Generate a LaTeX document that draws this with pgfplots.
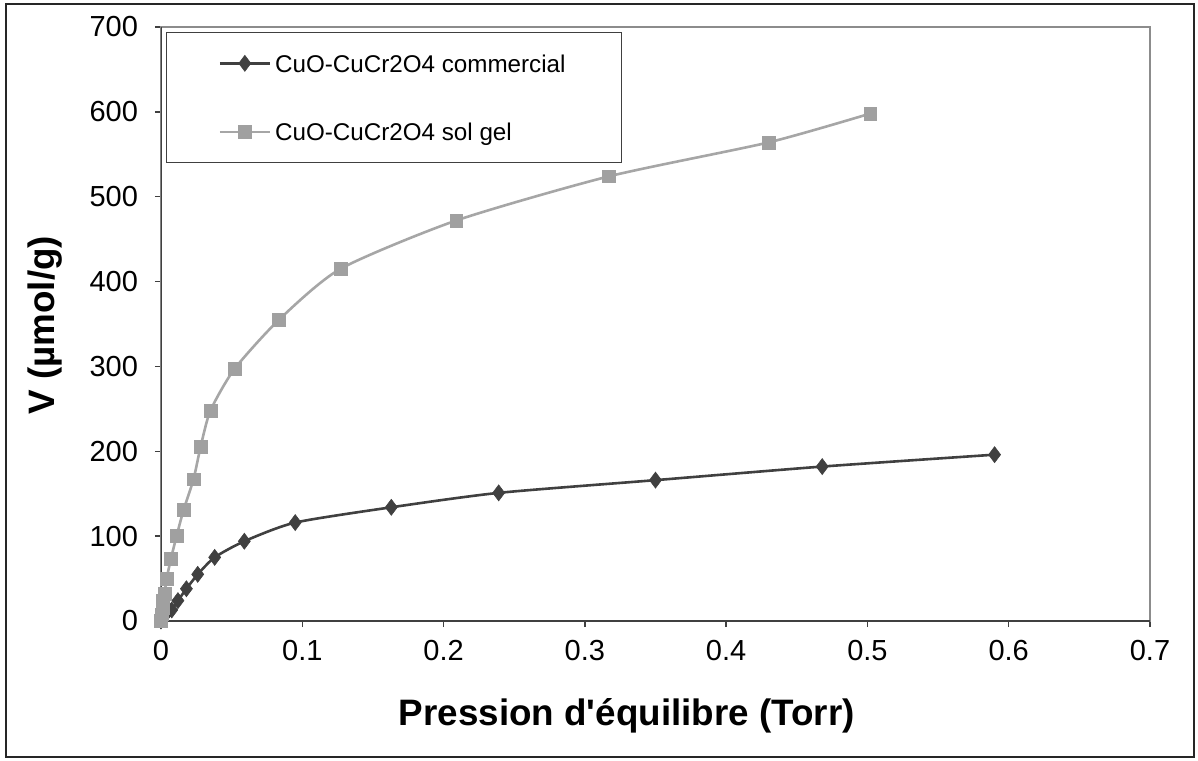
\documentclass[border=0pt]{standalone}
\usepackage{pgfplots}
\pgfplotsset{compat=1.18}
\usepackage{fontspec}
\setmainfont{Liberation Sans}
\newfontfamily\plainapos{Liberation Sans}[Ligatures=TeXOff]
\definecolor{darkser}{HTML}{404040}
\definecolor{lightser}{HTML}{A6A6A6}
\definecolor{lightmark}{HTML}{A0A0A0}
\begin{document}
\begin{tikzpicture}
\path[use as bounding box] (-80.5pt,-69.5pt) rectangle (518.5pt,310.5pt);
\draw[black!85, line width=1.1pt] (-77.5pt,-68pt) rectangle (516.5pt,308.5pt);
\begin{axis}[
  at={(0pt,0pt)}, anchor=south west,
  scale only axis, width=494.5pt, height=297pt,
  xmin=0, xmax=0.7, ymin=0, ymax=700,
  xtick={0,0.1,...,0.7}, ytick={0,100,...,700},
  xticklabels={0,0.1,0.2,0.3,0.4,0.5,0.6,0.7},
  tick align=outside, xtick pos=left, ytick pos=left,
  major tick length=3pt,
  tick style={black!75, line width=0.7pt},
  axis line style={draw=black!45, line width=0.9pt},
  ticklabel style={font=\fontsize{14.5}{16}\selectfont},
  /pgf/number format/assume math mode=true,
  xticklabel style={yshift=-3pt},
  yticklabel style={xshift=-5pt},
  xlabel={Pression d{\plainapos\bfseries '}équilibre (Torr)},
  ylabel={V (µmol/g)},
  label style={font=\fontsize{18.4}{21}\selectfont\bfseries},
  xlabel style={at={(axis description cs:0.471,-0.160)}, anchor=center},
  ylabel style={at={(axis description cs:-0.117,0.498)}, anchor=center, rotate=0},
  legend style={at={(axis description cs:0.005,0.995)}, anchor=north west, yshift=-1pt,
    draw=black!75, line width=0.6pt, font=\fontsize{12.1}{14}\selectfont,
    inner xsep=26pt, inner ysep=9pt, row sep=21.5pt, nodes={text depth=0pt}},
  legend cell align=left,
  legend image code/.code={\draw[mark repeat=2,mark phase=2,#1] plot coordinates {(0pt,0pt) (12.5pt,0pt) (25pt,0pt)};},
]
\addplot[darkser, line width=1.3pt, smooth, tension=0.4, mark=diamond*, mark size=4pt, mark options={fill=darkser, draw=darkser, line width=0.3pt}] coordinates {
(0,0) (0.003,7) (0.0076,13) (0.012,24) (0.018,38) (0.026,55) (0.038,75) (0.059,94) (0.095,116) (0.163,134) (0.239,151) (0.350,166) (0.468,182) (0.590,196)
};
\addlegendentry{CuO-CuCr2O4 commercial}
\addplot[lightser, line width=1.3pt, smooth, tension=0.4, mark=square*, mark size=3.2pt, mark options={fill=lightmark, draw=lightmark, line width=0.3pt}] coordinates {
(0,0) (0.0005,8) (0.001,16) (0.0015,24) (0.0025,32) (0.004,50) (0.007,73) (0.011,100) (0.016,131) (0.023,167) (0.028,205) (0.035,248) (0.052,297) (0.0835,355) (0.127,415) (0.209,472) (0.317,524) (0.430,564) (0.502,598)
};
\addlegendentry{CuO-CuCr2O4 sol gel}
\draw[black!75, line width=0.9pt] (rel axis cs:0,1) -- (rel axis cs:0,0) -- (rel axis cs:1,0);
\end{axis}
\end{tikzpicture}
\end{document}
